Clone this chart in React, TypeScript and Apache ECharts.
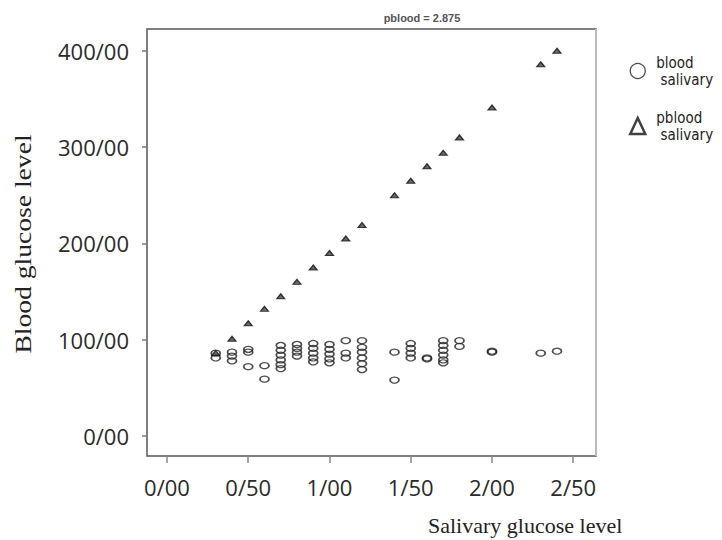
import React, { useEffect, useRef } from "react";
import * as echarts from "echarts";

// Tick values of the axes
const xTickValues = [0, 0.5, 1, 1.5, 2, 2.5];
const yTickValues = [0, 100, 200, 300, 400];

// "blood" (circles): salivary glucose vs blood glucose
const bloodSalivary = [
  0.3, 0.3,
  0.4, 0.4, 0.4,
  0.5, 0.5, 0.5,
  0.6, 0.6,
  0.7, 0.7, 0.7, 0.7, 0.7, 0.7,
  0.8, 0.8, 0.8, 0.8,
  0.9, 0.9, 0.9, 0.9, 0.9,
  1.0, 1.0, 1.0, 1.0, 1.0,
  1.1, 1.1, 1.1,
  1.2, 1.2, 1.2, 1.2, 1.2, 1.2,
  1.4, 1.4,
  1.5, 1.5, 1.5, 1.5,
  1.6, 1.6,
  1.7, 1.7, 1.7, 1.7, 1.7, 1.7,
  1.8, 1.8,
  2.0, 2.0,
  2.3,
  2.4,
];
const bloodValues = [
  86, 81,
  87, 83, 78,
  90, 87, 72,
  73, 59,
  94, 89, 84, 79, 74, 70,
  95, 91, 87, 83,
  96, 91, 86, 81, 77,
  95, 90, 85, 80, 76,
  99, 86, 81,
  99, 92, 87, 81, 75, 69,
  87, 58,
  96, 91, 86, 81,
  81, 80,
  99, 94, 89, 84, 79, 76,
  99, 93,
  87, 88,
  86,
  88,
];

// "pblood" (triangles): predicted blood glucose
const pbloodSalivary = [0.3, 0.4, 0.5, 0.6, 0.7, 0.8, 0.9, 1.0, 1.1, 1.2, 1.4, 1.5, 1.6, 1.7, 1.8, 2.0, 2.3, 2.4];
const pbloodValues = [86, 101, 117, 132, 145, 160, 175, 190, 205, 219, 250, 265, 280, 294, 310, 341, 386, 400];

const fmt = (v: number) => v.toFixed(2).replace(".", "/");

export default function App() {
  const ref = useRef<HTMLDivElement>(null);

  useEffect(() => {
    if (!ref.current) return;
    const chart = echarts.init(ref.current, null, { renderer: "svg" });

    const bloodData = bloodSalivary.map((x, i) => [x, bloodValues[i]]);
    const pbloodData = pbloodSalivary.map((x, i) => [x, pbloodValues[i]]);

    const gridLeft = 147;
    const gridTop = 29;
    const gridW = 449;
    const gridH = 427;

    chart.setOption({
      animation: false,
      backgroundColor: "#fff",
      grid: {
        left: gridLeft,
        top: gridTop,
        width: gridW,
        height: gridH,
        show: true,
        borderColor: "#555",
        borderWidth: 1.5,
        containLabel: false,
      },
      xAxis: {
        type: "value",
        min: -0.123,
        max: 2.64,
        splitLine: { show: false },
        axisLine: { show: false, onZero: false },
        axisTick: {
          show: true,
          customValues: xTickValues,
          length: 7,
          lineStyle: { color: "#888", width: 1.5 },
        },
        axisLabel: {
          customValues: xTickValues,
          formatter: (v: number) => fmt(v),
          fontFamily: "Open Sans",
          fontSize: 22,
          color: "#2a2a2a",
          margin: 20,
        },
      },
      yAxis: {
        type: "value",
        min: -20.8,
        max: 422.6,
        splitLine: { show: false },
        axisLine: { show: false, onZero: false },
        axisTick: {
          show: true,
          customValues: yTickValues,
          length: 5,
          lineStyle: { color: "#777", width: 1.5 },
        },
        axisLabel: {
          customValues: yTickValues,
          formatter: (v: number) => fmt(v),
          fontFamily: "Open Sans",
          fontSize: 22,
          color: "#2a2a2a",
          margin: 18,
        },
      },
      legend: {
        orient: "vertical",
        left: 624,
        top: 49,
        itemWidth: 15,
        itemHeight: 16,
        itemGap: 21,
        formatter: (name: string) => (name === "blood" ? "blood\n salivary" : "pblood\n salivary"),
        textStyle: {
          fontFamily: "DejaVu Sans Condensed, Liberation Sans Narrow, Liberation Sans",
          fontSize: 15,
          lineHeight: 17,
          color: "#222",
          padding: [0, 0, 0, 6],
        },
        data: [
          {
            name: "blood",
            icon: "circle",
            itemStyle: { color: "#fff", borderColor: "#222", borderWidth: 1.3 },
          },
          {
            name: "pblood",
            icon: "triangle",
            itemStyle: { color: "#fff", borderColor: "#111", borderWidth: 2.5 },
          },
        ],
      },
      series: [
        {
          name: "blood",
          type: "scatter",
          symbol: "circle",
          symbolSize: [9, 6],
          data: bloodData,
          itemStyle: { color: "rgba(255,255,255,0)", borderColor: "#222", borderWidth: 1.5 },
        },
        {
          name: "pblood",
          type: "scatter",
          symbol: "triangle",
          symbolSize: [8, 5],
          data: pbloodData,
          itemStyle: { color: "#444", borderColor: "#111", borderWidth: 1.2 },
        },
      ],
      graphic: [
        {
          type: "line",
          shape: { x1: gridLeft + gridW, y1: gridTop, x2: gridLeft + gridW, y2: gridTop + gridH },
          style: { stroke: "#bbb", lineWidth: 2 },
        },
        {
          type: "text",
          x: 23,
          y: 244,
          rotation: Math.PI / 2,
          scaleX: 1.2,
          style: {
            text: "Blood glucose level",
            fontFamily: "Liberation Serif",
            fontSize: 23,
            fill: "#222",
            align: "center",
            verticalAlign: "middle",
          },
        },
        {
          type: "text",
          x: 428,
          y: 525,
          style: {
            text: "Salivary glucose level",
            fontFamily: "Liberation Serif",
            fontSize: 22,
            fill: "#222",
            align: "left",
            verticalAlign: "middle",
          },
        },
        {
          type: "text",
          x: 422,
          y: 18,
          style: {
            text: "pblood = 2.875",
            fontFamily: "Liberation Sans",
            fontSize: 11,
            fontWeight: "bold",
            fill: "#555",
            align: "center",
            verticalAlign: "middle",
          },
        },
      ],
    });

    return () => chart.dispose();
  }, []);

  return (
    <div
      ref={ref}
      style={{ position: "fixed", left: 0, top: 0, width: 722, height: 540, background: "#fff" }}
    />
  );
}
